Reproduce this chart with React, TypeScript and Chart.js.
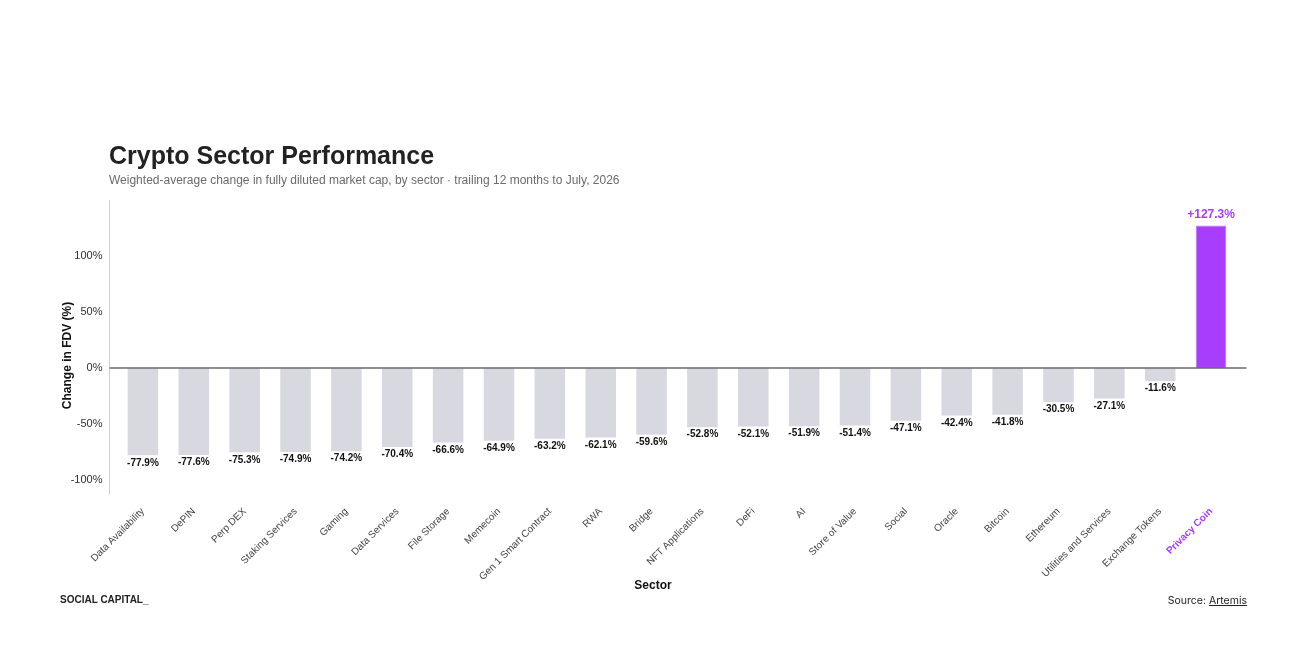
import React, { useEffect, useRef } from "react";
import { Chart, registerables } from "chart.js";

Chart.register(...registerables);

const categories = [
  "Data Availability", "DePIN", "Perp DEX", "Staking Services", "Gaming", "Data Services",
  "File Storage", "Memecoin", "Gen 1 Smart Contract", "RWA", "Bridge", "NFT Applications",
  "DeFi", "AI", "Store of Value", "Social", "Oracle", "Bitcoin", "Ethereum",
  "Utilities and Services", "Exchange Tokens", "Privacy Coin",
];
const values = [
  -77.9, -77.6, -75.3, -74.9, -74.2, -70.4, -66.6, -64.9, -63.2, -62.1, -59.6, -52.8,
  -52.1, -51.9, -51.4, -47.1, -42.4, -41.8, -30.5, -27.1, -11.6, 127.3,
];
const yTicks = [-100, -50, 0, 50, 100];
const highlight = "Privacy Coin";
const xTitle = "Sector";
const yTitle = "Change in FDV (%)";

const FONT = "'Liberation Sans', Arial, Helvetica, sans-serif";
const PURPLE = "#a93dfe";
const GRAY = "#d8d8e0";

const fmt = (v: number) => (v > 0 ? "+" : "") + v.toFixed(1) + "%";

const overlay = {
  id: "overlay",
  afterDatasetsDraw(chart: any) {
    const { ctx, chartArea, scales } = chart;
    const y = scales.y;
    const zeroY = y.getPixelForValue(0);
    ctx.save();
    // y axis line
    ctx.strokeStyle = "#cfcfd6";
    ctx.lineWidth = 1;
    ctx.beginPath();
    ctx.moveTo(chartArea.left - 8, chartArea.top);
    ctx.lineTo(chartArea.left - 8, chartArea.bottom);
    ctx.stroke();
    // zero line
    ctx.strokeStyle = "#6b6b6b";
    ctx.lineWidth = 1.5;
    ctx.beginPath();
    ctx.moveTo(chartArea.left - 8, zeroY);
    ctx.lineTo(chartArea.right + 10, zeroY);
    ctx.stroke();
    // value labels
    const meta = chart.getDatasetMeta(0);
    meta.data.forEach((bar: any, i: number) => {
      const v = values[i];
      ctx.textAlign = "center";
      ctx.textBaseline = "middle";
      if (v >= 0) {
        ctx.fillStyle = PURPLE;
        ctx.font = `bold 12px ${FONT}`;
        ctx.fillText(fmt(v), bar.x, bar.y - 11);
      } else {
        ctx.fillStyle = "#111";
        ctx.font = `bold 10px ${FONT}`;
        ctx.fillText(fmt(v), bar.x, bar.y + 7.5);
      }
    });
    // axis titles
    ctx.fillStyle = "#111";
    ctx.textAlign = "center";
    ctx.textBaseline = "middle";
    ctx.font = `bold 12px ${FONT}`;
    ctx.fillText(xTitle, 645, 578);
    ctx.translate(59.7, 347.5);
    ctx.rotate(-Math.PI / 2);
    ctx.font = `bold 12px ${FONT}`;
    ctx.fillText(yTitle, 0, 0);
    ctx.restore();
  },
};

export default function App() {
  const ref = useRef<HTMLCanvasElement | null>(null);
  useEffect(() => {
    if (!ref.current) return;
    const chart = new Chart(ref.current, {
      type: "bar",
      data: {
        labels: categories,
        datasets: [
          {
            data: values,
            backgroundColor: categories.map((c) => (c === highlight ? PURPLE : GRAY)),
            borderColor: categories.map((c) => (c === highlight ? "#bb70ff" : GRAY)),
            borderWidth: categories.map((c) => (c === highlight ? 1 : 0)),
            barPercentage: 0.6,
            categoryPercentage: 1,
          },
        ],
      },
      options: {
        responsive: false,
        animation: false,
        layout: { padding: { left: 49.5, right: 55.5, top: 192, bottom: 47.4 } },
        plugins: { legend: { display: false }, tooltip: { enabled: false } },
        scales: {
          x: {
            grid: { display: false },
            border: { display: false },
            ticks: {
              autoSkip: false,
              minRotation: 45,
              maxRotation: 45,
              padding: 3,
              color: (c: any) => (categories[c.index] === highlight ? PURPLE : "#444"),
              font: (c: any) => ({
                family: FONT,
                size: 10,
                weight: categories[c.index] === highlight ? "bold" : "normal",
              }),
            },
            afterFit: (s: any) => {
              s.height = 100;
            },
          },
          y: {
            min: -113,
            max: 150,
            grid: { display: false, drawTicks: false },
            border: { display: false },
            afterBuildTicks: (s: any) => {
              s.ticks = yTicks.map((v) => ({ value: v }));
            },
            ticks: {
              padding: 15,
              color: "#333",
              font: { family: FONT, size: 11 },
              callback: (v: any) => `${v}%`,
            },
            afterFit: (s: any) => {
              s.width = 60;
            },
          },
        },
      },
      plugins: [overlay],
    });
    return () => chart.destroy();
  }, []);

  return (
    <div style={{ position: "relative", width: 1284, height: 634, background: "#fff" }}>
      <canvas ref={ref} width={1284} height={634} style={{ display: "block" }} />
      <div
        style={{
          position: "absolute",
          left: 101,
          top: 132,
          fontFamily: FONT,
          fontWeight: "bold",
          fontSize: 25,
          lineHeight: "30px",
          color: "#222",
          whiteSpace: "nowrap",
        }}
      >
        Crypto Sector Performance
      </div>
      <div
        style={{
          position: "absolute",
          left: 101,
          top: 164,
          fontFamily: FONT,
          fontSize: 12,
          lineHeight: "16px",
          color: "#6b6b6b",
          whiteSpace: "nowrap",
        }}
      >
        Weighted-average change in fully diluted market cap, by sector · trailing 12 months to July, 2026
      </div>
      <div
        style={{
          position: "absolute",
          left: 52,
          top: 585,
          fontFamily: FONT,
          fontWeight: "bold",
          fontSize: 10,
          lineHeight: "14px",
          color: "#222",
          whiteSpace: "nowrap",
        }}
      >
        SOCIAL CAPITAL_
      </div>
      <div
        style={{
          position: "absolute",
          right: 45,
          top: 586,
          fontFamily: "Inter, sans-serif",
          fontSize: 10.5,
          lineHeight: "14px",
          color: "#222",
          whiteSpace: "nowrap",
        }}
      >
        Source: <span style={{ textDecoration: "underline" }}>Artemis</span>
      </div>
    </div>
  );
}
